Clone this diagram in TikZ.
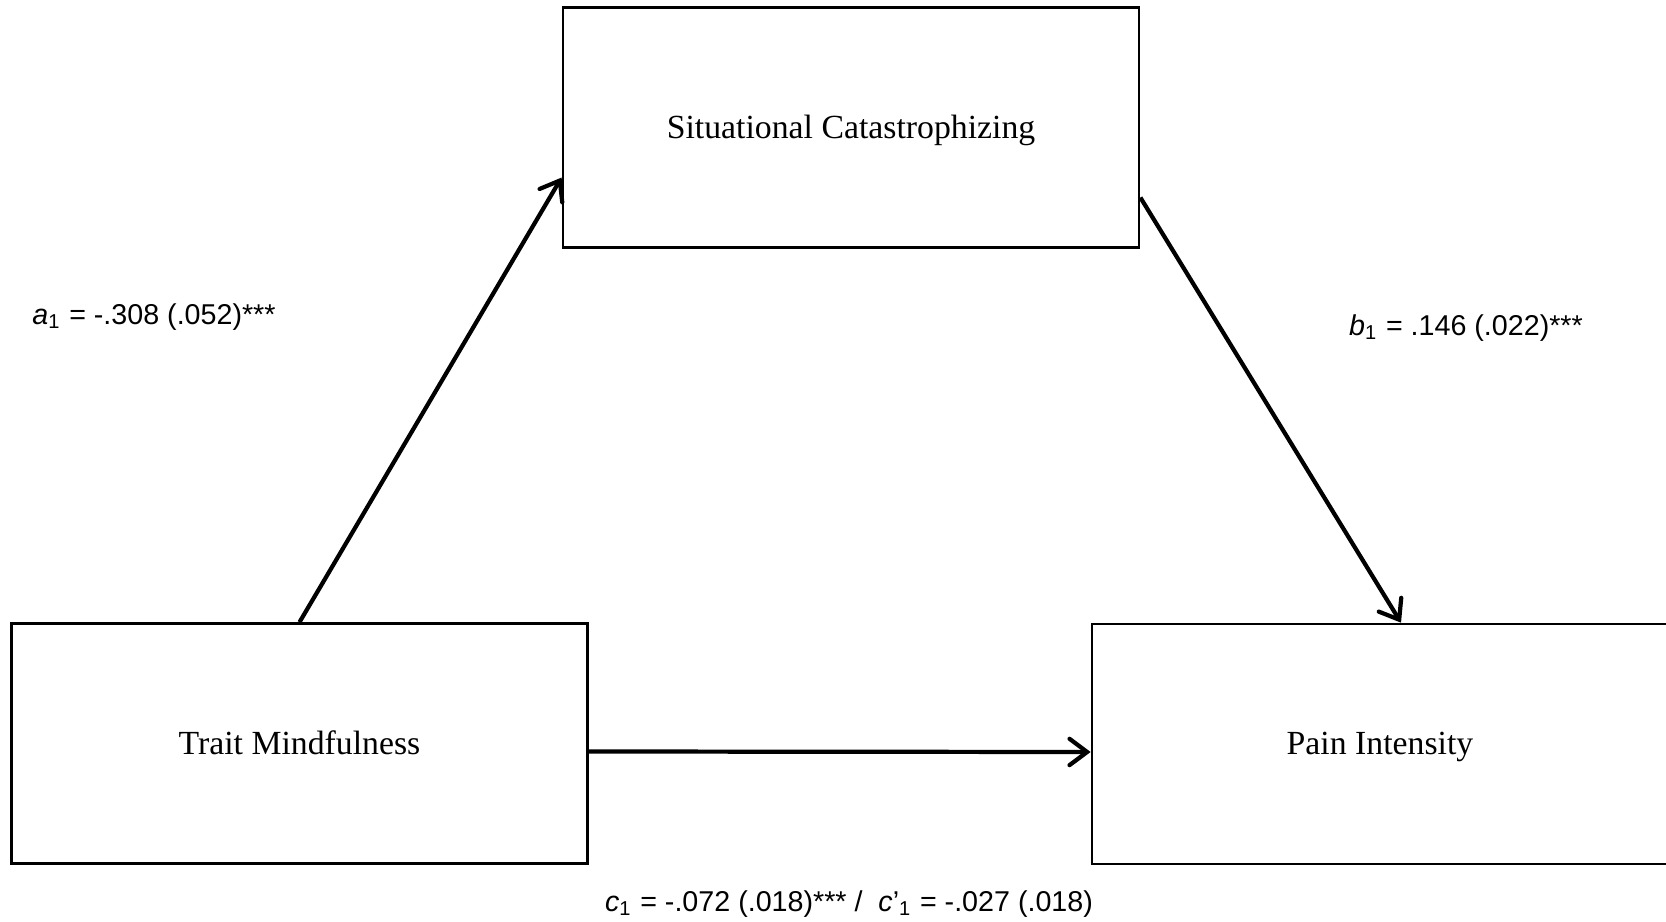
\documentclass[tikz,border=0pt]{standalone}
\usepackage{fontspec}
\setmainfont{Liberation Serif}
\newfontfamily\labelfont{Liberation Sans}
\usetikzlibrary{arrows.meta}

\tikzset{varbox/.style={draw=black,line width=0.7pt,minimum width=5.76cm,minimum height=2.4cm,inner sep=0pt,text height=6pt,text depth=0pt,font=\fontsize{9.6}{11}\selectfont},
	path/.style={line width=1.2pt,-{Straight Barb[length=5pt,width=7.5pt,line cap=round]}},
	coef/.style={font=\labelfont\fontsize{8.15}{10}\selectfont,inner sep=0pt}}

\begin{document}
\begin{tikzpicture}[x=0.01cm,y=-0.01cm]
		\useasboundingbox (0,0) rectangle (1666,922);
		\node[varbox] (sc) at (851,127.5) {Situational Catastrophizing};
		\node[varbox] (tm) at (299.5,743.5) {Trait Mindfulness};
		\node[varbox] (pi) at (1380,744) {Pain Intensity};
		\draw[path] (tm.north) -- ([yshift=-0.5cm]sc.west);
		\draw[path] ([yshift=-0.7cm]sc.east) -- ([xshift=0.21cm]pi.north);
		\draw[path] ([yshift=-0.08cm]tm.east) -- ([yshift=-0.08cm]pi.west);
		\node[coef] (a) at (154,317) {\textit{a}\textsubscript{1} = -.308 (.052)***};
		\node[coef] (b) at (1466,328) {\textit{b}\textsubscript{1} = .146 (.022)***};
		\node[coef] (c) at (849,904) {\textit{c}\textsubscript{1} = -.072 (.018)*** /~ \textit{c}’\textsubscript{1} = -.027 (.018)};
	\end{tikzpicture}
\end{document}
